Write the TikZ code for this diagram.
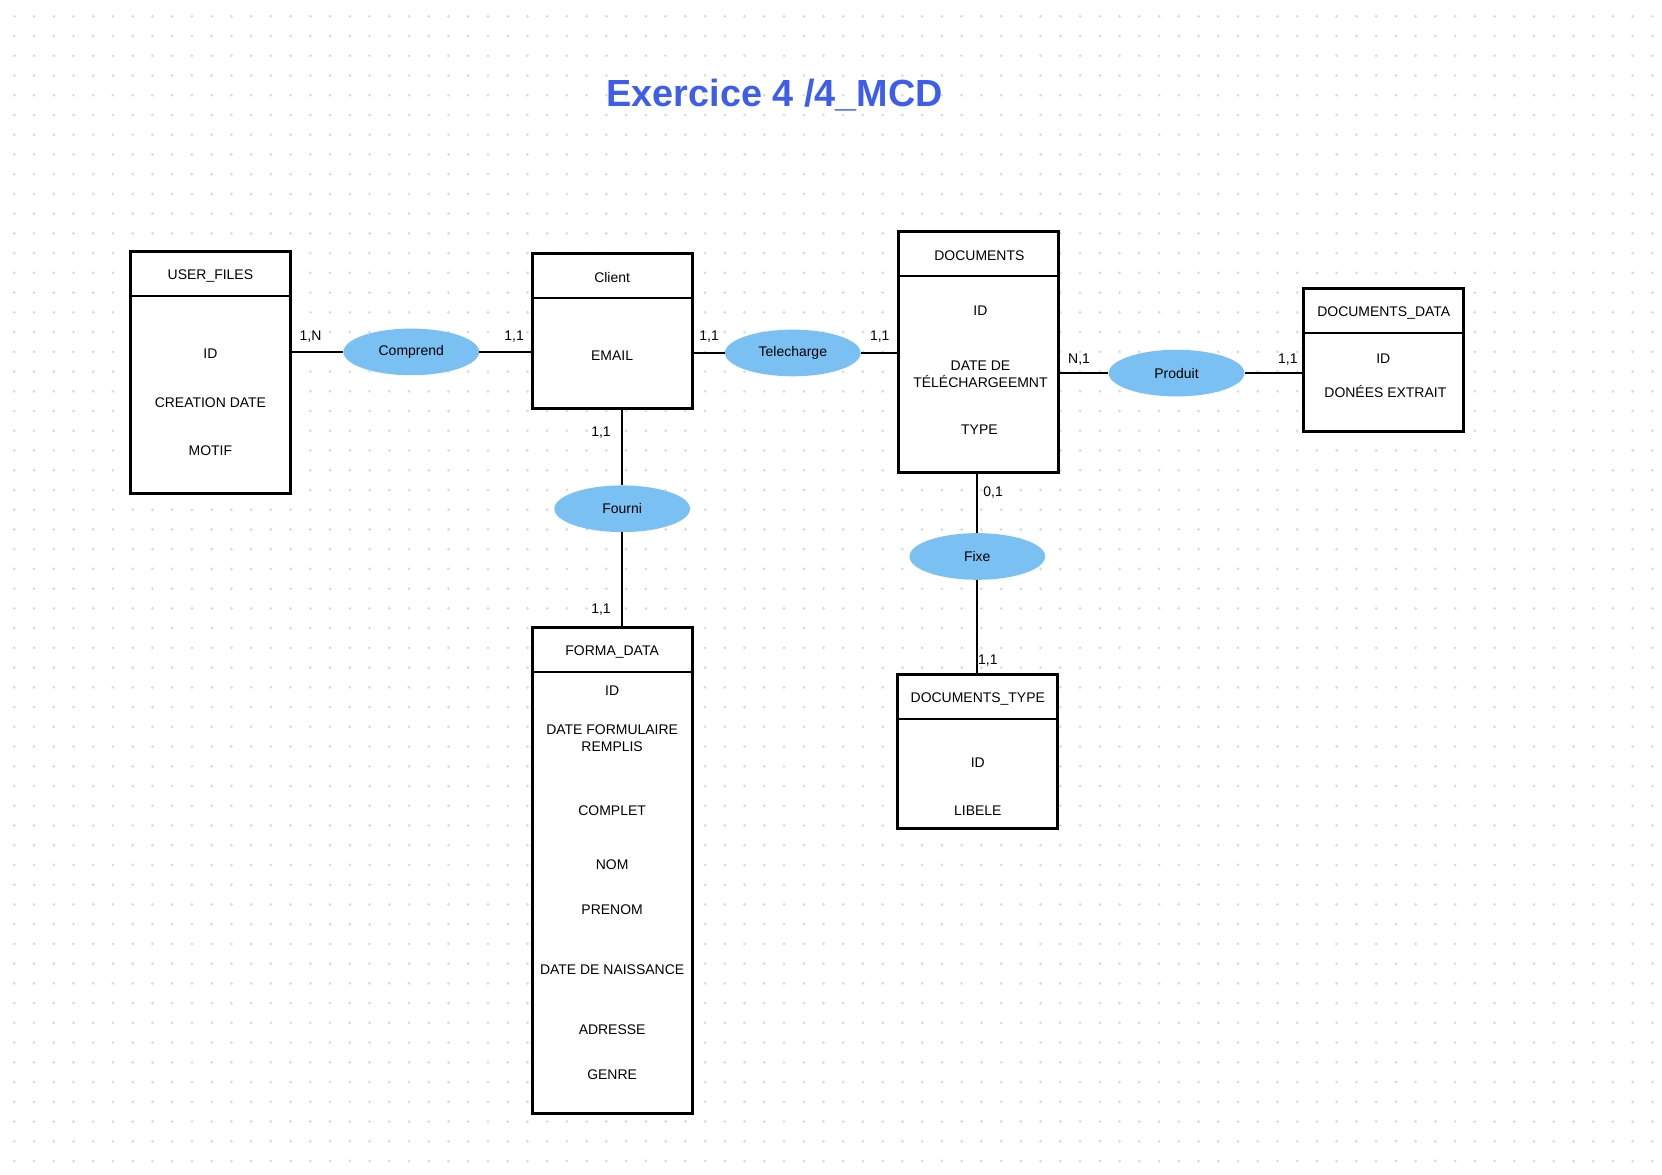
\documentclass[tikz,border=0pt]{standalone}
\usepackage{fontspec}
\setmainfont{Liberation Sans}
\usetikzlibrary{shapes.geometric}
\definecolor{titleblue}{HTML}{3C5EEB}
\definecolor{relblue}{HTML}{7BC0F2}
\definecolor{dotgray}{HTML}{DADADA}
\begin{document}
\begin{tikzpicture}[x=0.02cm, y=-0.02cm,
  every node/.style={font=\fontsize{7.5}{8.9}\selectfont},
  entity/.style={draw, fill=white, line width=1.6pt, minimum width=3.02cm, inner sep=0pt},
  sep/.style={line width=1.2pt},
  rel/.style={ellipse, fill=relblue, minimum width=2.56cm, minimum height=0.88cm, inner sep=0pt},
  link/.style={line width=1.1pt},
  attr/.style={align=center, yshift=-0.03cm},
  card/.style={yshift=-0.03cm}]
\useasboundingbox (0,0) rectangle (1568,1108);
\fill[white] (0,0) rectangle (1568,1108);
\foreach \i in {0,...,83}
  \foreach \j in {0,...,58}
    \fill[dotgray] ({13.5+18.62*\i},{15.4+18.62*\j}) circle (0.028cm);
\node[font=\fontsize{20.3}{24}\selectfont\bfseries, text=titleblue] (title) at (731,90){Exercice 4 /4\_MCD};
\node[entity, minimum height=4.58cm] (userfiles) at (198.5,351.5){};
\draw[sep] ([yshift=-0.87cm]userfiles.north west) -- ([yshift=-0.87cm]userfiles.north east);
\node[attr] (userfilesname) at (198.5,259){USER\_FILES};
\node[attr] (userfilesid) at (198.5,332){ID};
\node[attr] (userfilesdate) at (198.5,378){CREATION DATE};
\node[attr] (userfilesmotif) at (198.5,424){MOTIF};
\node[entity, minimum height=2.92cm] (client) at (577.5,312){};
\draw[sep] ([yshift=-0.87cm]client.north west) -- ([yshift=-0.87cm]client.north east);
\node[attr] (clientname) at (577.5,260){Client};
\node[attr] (clientemail) at (577.5,334){EMAIL};
\node[entity, minimum height=4.56cm] (documents) at (923.5,332){};
\draw[sep] ([yshift=-0.87cm]documents.north west) -- ([yshift=-0.87cm]documents.north east);
\node[attr] (documentsname) at (924,240){DOCUMENTS};
\node[attr] (documentsid) at (925,292){ID};
\node[attr] (documentsdate) at (925,351.5){DATE DE\\TÉLÉCHARGEEMNT};
\node[attr] (documentstype) at (924,404){TYPE};
\node[entity, minimum height=2.7cm] (docdata) at (1305.5,339.5){};
\draw[sep] ([yshift=-0.87cm]docdata.north west) -- ([yshift=-0.87cm]docdata.north east);
\node[attr] (docdataname) at (1305.5,294){DOCUMENTS\_DATA};
\node[attr] (docdataid) at (1305,337){ID};
\node[attr] (docdatavalues) at (1307,368){DONÉES EXTRAIT};
\node[entity, minimum height=9.18cm] (formadata) at (577.5,821.5){};
\draw[sep] ([yshift=-0.87cm]formadata.north west) -- ([yshift=-0.87cm]formadata.north east);
\node[attr] (formadataname) at (577.5,614){FORMA\_DATA};
\node[attr] (formadataid) at (577.5,650){ID};
\node[attr] (formadatadate) at (577.5,695){DATE FORMULAIRE\\REMPLIS};
\node[attr] (formadatacomplet) at (577.5,763){COMPLET};
\node[attr] (formadatanom) at (577.5,814){NOM};
\node[attr] (formadataprenom) at (577.5,857){PRENOM};
\node[attr] (formadatanaiss) at (577.5,913){DATE DE NAISSANCE};
\node[attr] (formadataadresse) at (577.5,970){ADRESSE};
\node[attr] (formadatagenre) at (577.5,1012){GENRE};
\node[entity, minimum height=2.92cm] (doctype) at (922.5,709){};
\draw[sep] ([yshift=-0.87cm]doctype.north west) -- ([yshift=-0.87cm]doctype.north east);
\node[attr] (doctypename) at (922.5,658){DOCUMENTS\_TYPE};
\node[attr] (doctypeid) at (922.5,718){ID};
\node[attr] (doctypelibele) at (922.5,763){LIBELE};
\node[rel] (comprend) at (388,332){Comprend};
\node[rel] (telecharge) at (748,333){Telecharge};
\node[rel] (produit) at (1110,352){Produit};
\node[rel] (fourni) at (587,480){Fourni};
\node[rel] (fixe) at (922,525){Fixe};
\draw[link](userfiles.east |- comprend) -- (comprend.west);
\draw[link](comprend.east) -- (comprend -| client.west);
\draw[link](client.east |- telecharge) -- (telecharge.west);
\draw[link](telecharge.east) -- (telecharge -| documents.west);
\draw[link](documents.east |- produit) -- (produit.west);
\draw[link](produit.east) -- (produit -| docdata.west);
\draw[link](fourni.north |- client.south) -- (fourni.north);
\draw[link](fourni.south) -- (fourni.south |- formadata.north);
\draw[link](fixe.north |- documents.south) -- (fixe.north);
\draw[link](fixe.south) -- (fixe.south |- doctype.north);
\node[card] (cardA) at (293,316){1,N};
\node[card] (cardB) at (485,316){1,1};
\node[card] (cardC) at (669,316){1,1};
\node[card] (cardD) at (830,316){1,1};
\node[card] (cardE) at (1018,338){N,1};
\node[card] (cardF) at (1215,338){1,1};
\node[card] (cardG) at (567,407){1,1};
\node[card] (cardH) at (567,574){1,1};
\node[card] (cardI) at (937,463){0,1};
\node[card] (cardJ) at (932,622){1,1};
\end{tikzpicture}
\end{document}
